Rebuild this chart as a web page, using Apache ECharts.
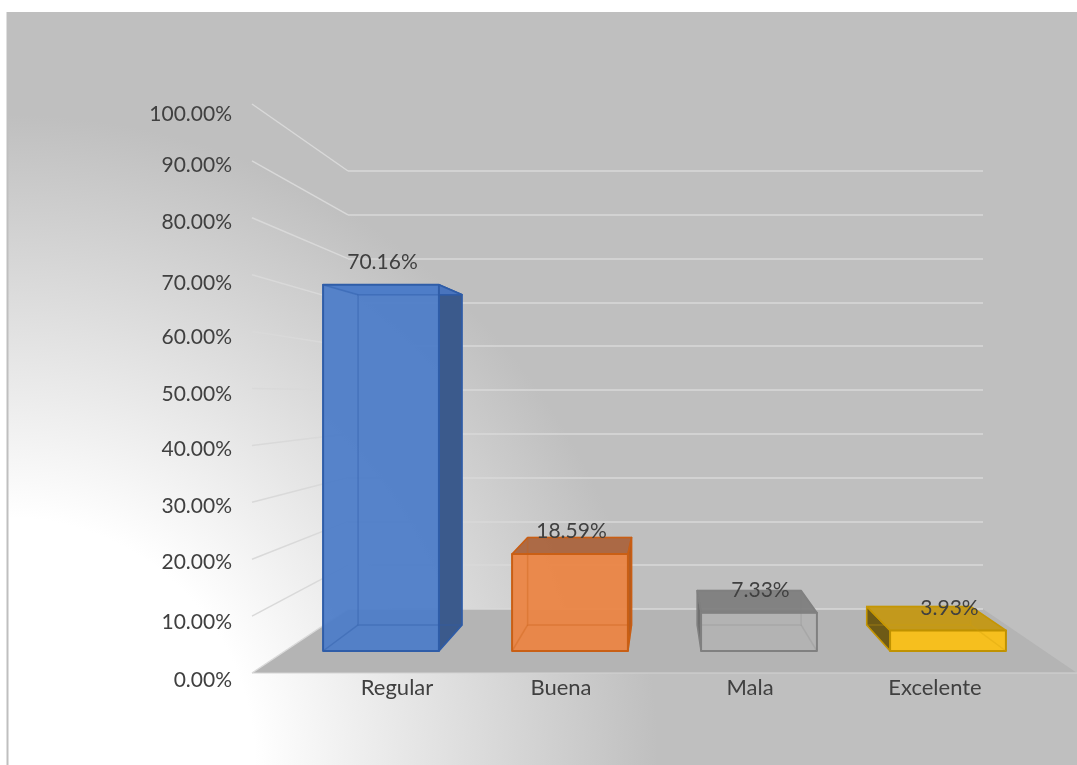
<!DOCTYPE html>
<html>
<head>
<meta charset="utf-8">
<style>html,body{margin:0;padding:0;background:#fff}#c{width:1077px;height:765px}</style>
<script src="https://cdn.jsdelivr.net/npm/echarts@6/dist/echarts.min.js"></script>
</head>
<body>
<div id="c"></div>
<script>
const categories = ['Regular', 'Buena', 'Mala', 'Excelente'];
const values = [70.16, 18.59, 7.33, 3.93];
const yTicks = [0, 10, 20, 30, 40, 50, 60, 70, 80, 90, 100];

// layout and style, kept apart from the data
const FONT = 'Lato, "Open Sans", sans-serif';
const TEXT = '#404040';
const FS = 21;
const FS_CAT = 22;
const catShift = [16, -9, -9, -13];
const tickShift = {0:0, 10:1, 20:5, 30:4, 40:4, 50:3, 60:3, 70:1, 80:5, 90:5, 100:0};
const looks = [
  {front:'rgba(78,125,200,0.95)', top:'rgba(74,118,192,0.95)', side:'#3b5a8c', edge:'#2f5da8', inner:'rgba(47,93,168,0.4)', sideFace:'right'},
  {front:'rgba(236,131,66,0.93)', top:'rgba(170,100,62,0.95)', side:'#b65c20', edge:'#c95f15', inner:'rgba(201,95,21,0.35)', sideFace:'right'},
  {front:'rgba(178,178,178,0.5)', top:'rgba(125,125,125,0.92)', side:'#6f6f6f', edge:'#808080', inner:'rgba(128,128,128,0.22)', sideFace:'left'},
  {front:'rgba(249,192,24,0.96)', top:'rgba(196,152,20,0.95)', side:'#6e5a16', edge:'#c09200', inner:'rgba(210,160,10,0.3)', sideFace:'left'}
];
const depth = {ax:68.3, kx:0.897, by:38, ky:0.9016};
const back = p => [depth.ax + depth.kx * p[0], depth.by + depth.ky * p[1]];

const chart = echarts.init(document.getElementById('c'));

function poly(pts, fill, stroke, lw) {
  return {type:'polygon', shape:{points:pts}, style:{fill:fill, stroke:stroke || null, lineWidth:lw || 0, lineJoin:'round'}};
}
function barItem(params, api) {
  const i = api.value(0), v = api.value(1), s = looks[i];
  const base = api.coord([i, 0]), head = api.coord([i, v]);
  const w = api.size([1, 0])[0] * 0.613;
  const l = base[0] - w / 2, r = base[0] + w / 2;
  const fbl = [l, base[1]], fbr = [r, base[1]], ftl = [l, head[1]], ftr = [r, head[1]];
  const bbl = back(fbl), bbr = back(fbr), btl = back(ftl), btr = back(ftr);
  const kids = [];
  const sidePts = s.sideFace === 'right' ? [fbr, bbr, btr, ftr] : [fbl, bbl, btl, ftl];
  kids.push(poly(sidePts, s.side, s.edge, 1.5));
  kids.push(poly([ftl, ftr, btr, btl], s.top, s.edge, 1.5));
  kids.push(poly([fbl, fbr, ftr, ftl], s.front, s.edge, 2));
  [[fbl, bbl], [fbr, bbr], [ftl, btl], [ftr, btr]].forEach(e => kids.push({type:'line', shape:{x1:e[0][0], y1:e[0][1], x2:e[1][0], y2:e[1][1]}, style:{stroke:s.inner, lineWidth:1.5}}));
  kids.push(poly([bbl, bbr, btr, btl], 'rgba(0,0,0,0)', s.inner, 1.5));
  kids.push({type:'text', z2:50, style:{text:v.toFixed(2) + '%', x:base[0] + 1.5, y:head[1] - 22.5, align:'center', verticalAlign:'middle', fill:TEXT, font:FS + 'px ' + FONT}});
  return {type:'group', children:kids};
}
function floorItem(params, api) {
  const a = api.coord([0, 0]), b = api.coord([1, 0]);
  const fa = [a[0] - 96, a[1] + 64], fb = [b[0] + 94, b[1] + 64];
  return {type:'group', children:[
    poly([fa, a, b, fb], '#b4b4b4'),
    {type:'line', shape:{x1:fa[0], y1:fa[1], x2:fb[0], y2:fb[1]}, style:{stroke:'#d4d4d4', lineWidth:1.2}}
  ]};
}
function diagonalItem(params, api) {
  const p = api.coord([0, api.value(0)]);
  const y0 = api.coord([0, 0])[1];
  return {type:'line', shape:{x1:p[0], y1:p[1], x2:p[0] - 96, y2:673 + (p[1] - y0) * 5.69 / 4.38}, style:{stroke:'#d9d9d9', lineWidth:1.5}};
}

const yRich = {};
yTicks.forEach(t => { yRich['t' + t] = {fontFamily:FONT, fontSize:FS, color:TEXT, padding:[0, 0, tickShift[t] * 2, 0]}; });
const xRich = {};
categories.forEach((c, i) => {
  const d = catShift[i];
  xRich['c' + i] = {fontFamily:FONT, fontSize:FS_CAT, color:TEXT, padding:[0, d < 0 ? -2 * d : 0, 0, d > 0 ? 2 * d : 0]};
});

chart.setOption({
  animation:false,
  backgroundColor:'#fff',
  graphic:[
    {type:'rect', z:-100, silent:true, shape:{x:8, y:12, width:1069, height:753},
     style:{fill:new echarts.graphic.RadialGradient(8, 765, 650, [
       {offset:0, color:'#ffffff'}, {offset:0.38, color:'#ffffff'}, {offset:1, color:'#bfbfbf'}], true)}},
    {type:'line', z:-99, silent:true, shape:{x1:7.5, y1:12, x2:7.5, y2:765}, style:{stroke:'#bfbfbf', lineWidth:2}}
  ],
  grid:[
    {left:286.5, width:756, top:129, height:522},
    {left:252, width:96, top:114, height:566},
    {left:348, width:635, top:171, height:438}
  ],
  xAxis:[
    {gridIndex:0, type:'category', data:categories, axisLine:{show:false}, axisTick:{show:false}, splitLine:{show:false},
     axisLabel:{margin:26, interval:0, formatter:(v, i) => '{c' + i + '|' + v + '}', rich:xRich}},
    {gridIndex:1, type:'value', min:0, max:1, show:false},
    {gridIndex:2, type:'value', min:0, max:1, show:false}
  ],
  yAxis:[
    {gridIndex:0, type:'value', min:0, max:100, show:false},
    {gridIndex:1, type:'value', min:0, max:100, interval:10, axisLine:{show:false}, axisTick:{show:false}, splitLine:{show:false},
     axisLabel:{margin:20, formatter:v => '{t' + v + '|' + v.toFixed(2) + '%}', rich:yRich}},
    {gridIndex:2, type:'value', min:0, max:100, interval:10, z:3, axisLine:{show:false}, axisTick:{show:false}, axisLabel:{show:false},
     splitLine:{show:true, lineStyle:{color:'#d9d9d9', width:1.5}}}
  ],
  series:[
    {type:'custom', name:'Piso', z:-1, silent:true, xAxisIndex:2, yAxisIndex:2, clip:false, data:[[0]], renderItem:floorItem},
    {type:'custom', name:'Paredes', z:1, silent:true, xAxisIndex:2, yAxisIndex:2, clip:false, data:yTicks.map(t => [t]), encode:{y:0}, renderItem:diagonalItem},
    {type:'custom', name:'Calidad', z:5, silent:true, xAxisIndex:0, yAxisIndex:0, clip:false,
     data:values.map((v, i) => [i, v]), encode:{x:0, y:1}, renderItem:barItem}
  ]
});
</script>
</body>
</html>
